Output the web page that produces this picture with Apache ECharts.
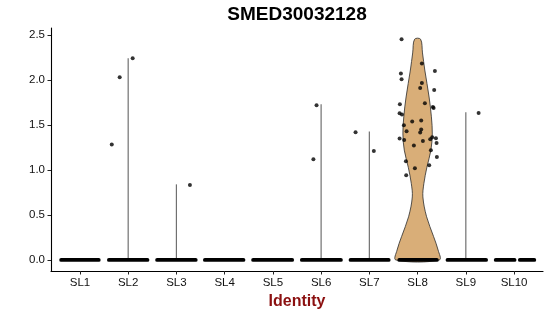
<!DOCTYPE html>
<html>
<head>
<meta charset="utf-8">
<script src="https://cdn.jsdelivr.net/npm/echarts@6/dist/echarts.min.js"></script>
<style>html,body{margin:0;padding:0;background:#fff}#c{width:550px;height:316px}</style>
</head>
<body>
<div id="c"></div>
<script>
const titleText = 'SMED30032128';
const xName = 'Identity';
const categories = ['SL1','SL2','SL3','SL4','SL5','SL6','SL7','SL8','SL9','SL10'];
const yTicks = [0, 0.5, 1.0, 1.5, 2.0, 2.5];

// max expression per identity (violin extent)
const violinMax = [0, 2.24, 0.84, 0, 0, 1.73, 1.427, 2.452, 1.64, 0];

// SL8 violin profile: expression level and relative density (1 = full width)
const sl8Levels  = [0, 0.11, 0.26, 0.48, 0.70, 0.85, 1.03, 1.22, 1.40, 1.59, 1.81, 2.11, 2.30, 2.452];
const sl8Density = [1, 0.945, 0.737, 0.415, 0.244, 0.29, 0.429, 0.613, 0.677, 0.636, 0.53, 0.332, 0.226, 0.138];

// non-zero cells: identity index, jitter offset, expression
const ptCategory = [1,1,1, 2, 5,5, 6,6, 8,
  7,7,7,7,7,7,7,7,7,7,7,7,7,7,7,7,7,7,7,7,7,7,7,7,7,7,7,7,7,7,7,7,7,7];
const ptOffset = [-0.34,-0.176,0.093, 0.28, -0.095,-0.16, -0.286,0.093, 0.265,
  -0.332,0.089,0.359,-0.346,-0.332,0.089,0.054,0.344,0.151,-0.367,0.317,0.332,-0.373,-0.325,
  -0.112,0.075,-0.284,0.075,-0.228,0.054,0.303,0.38,-0.373,0.262,-0.278,0.11,0.394,-0.077,
  0.276,0.4,-0.242,0.241,-0.056,-0.236,0.021,0.065];
const ptValue = [1.284,2.03,2.24, 0.833, 1.72,1.119, 1.42,1.211, 1.633,
  2.452,2.182,2.10,2.071,2.008,1.967,1.911,1.889,1.741,1.73,1.70,1.689,1.63,1.615,
  1.537,1.549,1.497,1.449,1.43,1.415,1.363,1.352,1.349,1.341,1.333,1.322,1.30,1.271,
  1.219,1.144,1.097,1.052,1.019,0.941,0.678,1.432];

// zero-expression cells: identity index and jitter extent
const zeroCat  = [0,1,2,3,4,5,6,7,8,9,9];
const zeroFrom = [-0.39,-0.40,-0.40,-0.41,-0.41,-0.40,-0.39,-0.38,-0.38,-0.38,0.12];
const zeroTo   = [ 0.39, 0.40, 0.40, 0.39, 0.40, 0.41, 0.40, 0.40, 0.42, 0.01,0.42];

const chart = echarts.init(document.getElementById('c'), null, {renderer:'canvas'});
const FONT = '"Liberation Sans", Arial, Helvetica, sans-serif';
const HALF = 0.45;

const option = {
  animation: false,
  graphic: [{
    type: 'text',
    x: 297, y: 5,
    style: { text: titleText, x: 0, y: 0, textAlign: 'center', textVerticalAlign: 'top',
      font: 'bold 19px ' + FONT, fill: '#000' }
  }],
  grid: { left: 51, right: 7, top: 28, bottom: 45, containLabel: false },
  xAxis: {
    type: 'value', min: -0.6, max: 9.6,
    name: xName, nameLocation: 'middle', nameGap: 20,
    nameTextStyle: { color: '#8B1010', fontWeight: 'bold', fontSize: 16, fontFamily: FONT },
    axisLine: { show: true, onZero: false, lineStyle: { color: '#000', width: 1.1 } },
    axisTick: { show: true, length: 3.5, customValues: categories.map((c,i)=>i), lineStyle: { color: '#222', width: 1 } },
    axisLabel: { customValues: categories.map((c,i)=>i), formatter: v => categories[Math.round(v)],
      color: '#111', fontSize: 11.5, fontFamily: FONT, margin: 6 },
    splitLine: { show: false }
  },
  yAxis: {
    type: 'value', min: -0.1227, max: 2.577,
    axisLine: { show: true, onZero: false, lineStyle: { color: '#000', width: 1.1 } },
    axisTick: { show: true, length: 3.5, customValues: yTicks, lineStyle: { color: '#222', width: 1 } },
    axisLabel: { customValues: yTicks, formatter: v => v.toFixed(1),
      color: '#111', fontSize: 11.5, fontFamily: FONT, margin: 6 },
    splitLine: { show: false }
  },
  series: [
    {
      type: 'custom', silent: true, clip: false,
      data: categories.map((c,i)=>[i, violinMax[i]]),
      renderItem: function (params, api) {
        const i = params.dataIndex;
        const m = violinMax[i];
        if (!(m > 0)) return { type: 'group', children: [] };
        if (i === 7) {
          const pts = [];
          for (let k = 0; k < sl8Levels.length; k++) pts.push(api.coord([i + HALF * sl8Density[k], sl8Levels[k]]));
          for (let k = sl8Levels.length - 1; k >= 0; k--) pts.push(api.coord([i - HALF * sl8Density[k], sl8Levels[k]]));
          return { type: 'polygon', shape: { points: pts, smooth: 0.35 },
            style: { fill: '#D9AE78', stroke: '#2b2b2b', lineWidth: 0.8 } };
        }
        const a = api.coord([i, 0]), b = api.coord([i, m]);
        return { type: 'line', shape: { x1: a[0], y1: a[1], x2: b[0], y2: b[1] },
          style: { stroke: '#707070', lineWidth: 1.2 } };
      }
    },
    {
      type: 'custom', silent: true, clip: false,
      data: zeroCat.map((c,i)=>[c, 0]),
      renderItem: function (params, api) {
        const j = params.dataIndex;
        const a = api.coord([zeroCat[j] + zeroFrom[j], 0]);
        const b = api.coord([zeroCat[j] + zeroTo[j], 0]);
        return { type: 'line', shape: { x1: a[0], y1: a[1], x2: b[0], y2: b[1] },
          style: { stroke: '#000', lineWidth: 3.8, lineCap: 'round' } };
      }
    },
    {
      type: 'scatter', silent: true,
      symbol: 'circle', symbolSize: 4,
      itemStyle: { color: '#000' },
      data: ptCategory.map((c,i)=>[c + ptOffset[i], ptValue[i]])
    }
  ]
};
chart.setOption(option);
</script>
</body>
</html>
